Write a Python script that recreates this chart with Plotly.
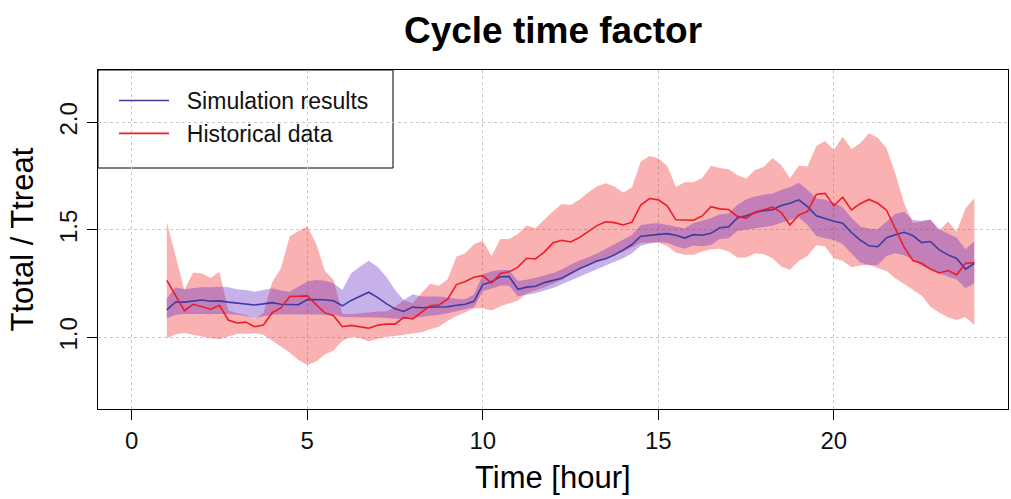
import plotly.graph_objects as go

time_hours = [
    1.0, 1.25, 1.5, 1.75, 2.0, 2.25, 2.5, 2.75, 3.0, 3.25, 3.5, 3.75,
    4.0, 4.25, 4.5, 4.75, 5.0, 5.25, 5.5, 5.75, 6.0, 6.25, 6.5, 6.75,
    7.0, 7.25, 7.5, 7.75, 8.0, 8.25, 8.5, 8.75, 9.0, 9.25, 9.5, 9.75,
    10.0, 10.25, 10.5, 10.75, 11.0, 11.25, 11.5, 11.75, 12.0, 12.25, 12.5, 12.75,
    13.0, 13.25, 13.5, 13.75, 14.0, 14.25, 14.5, 14.75, 15.0, 15.25, 15.5, 15.75,
    16.0, 16.25, 16.5, 16.75, 17.0, 17.25, 17.5, 17.75, 18.0, 18.25, 18.5, 18.75,
    19.0, 19.25, 19.5, 19.75, 20.0, 20.25, 20.5, 20.75, 21.0, 21.25, 21.5, 21.75,
    22.0, 22.25, 22.5, 22.75, 23.0, 23.25, 23.5, 23.75, 24.0,
]

sim_mean = [
    1.128, 1.165, 1.164, 1.170, 1.174, 1.168, 1.170, 1.164, 1.159, 1.155, 1.151, 1.156,
    1.162, 1.154, 1.152, 1.152, 1.176, 1.176, 1.175, 1.170, 1.147, 1.172, 1.191, 1.210,
    1.186, 1.157, 1.133, 1.121, 1.141, 1.138, 1.140, 1.140, 1.143, 1.150, 1.154, 1.168,
    1.246, 1.259, 1.282, 1.283, 1.224, 1.234, 1.238, 1.255, 1.265, 1.275, 1.298, 1.320,
    1.337, 1.356, 1.366, 1.384, 1.407, 1.432, 1.471, 1.475, 1.481, 1.483, 1.475, 1.462,
    1.478, 1.475, 1.484, 1.510, 1.514, 1.556, 1.566, 1.580, 1.590, 1.594, 1.614, 1.624,
    1.640, 1.608, 1.566, 1.553, 1.540, 1.531, 1.488, 1.453, 1.426, 1.422, 1.464, 1.478,
    1.489, 1.474, 1.441, 1.446, 1.407, 1.384, 1.367, 1.317, 1.345,
]
sim_lower = [
    1.089, 1.105, 1.109, 1.109, 1.112, 1.112, 1.112, 1.109, 1.105, 1.100, 1.090, 1.097,
    1.105, 1.108, 1.108, 1.105, 1.108, 1.108, 1.108, 1.106, 1.095, 1.095, 1.095, 1.095,
    1.093, 1.090, 1.087, 1.085, 1.090, 1.095, 1.098, 1.105, 1.112, 1.120, 1.131, 1.140,
    1.215, 1.228, 1.240, 1.240, 1.192, 1.198, 1.206, 1.218, 1.230, 1.247, 1.265, 1.283,
    1.302, 1.318, 1.335, 1.352, 1.368, 1.391, 1.427, 1.437, 1.443, 1.440, 1.424, 1.412,
    1.428, 1.424, 1.430, 1.458, 1.461, 1.495, 1.502, 1.509, 1.514, 1.520, 1.534, 1.545,
    1.559, 1.523, 1.472, 1.461, 1.453, 1.435, 1.391, 1.348, 1.337, 1.337, 1.379, 1.391,
    1.382, 1.364, 1.333, 1.314, 1.298, 1.283, 1.270, 1.229, 1.252,
]
sim_upper = [
    1.182, 1.233, 1.224, 1.229, 1.233, 1.233, 1.236, 1.233, 1.224, 1.221, 1.213, 1.221,
    1.229, 1.218, 1.213, 1.236, 1.260, 1.267, 1.264, 1.252, 1.221, 1.298, 1.329, 1.357,
    1.329, 1.283, 1.221, 1.174, 1.201, 1.190, 1.190, 1.190, 1.185, 1.180, 1.178, 1.200,
    1.293, 1.308, 1.314, 1.314, 1.263, 1.268, 1.277, 1.288, 1.300, 1.316, 1.338, 1.358,
    1.373, 1.390, 1.411, 1.433, 1.453, 1.477, 1.523, 1.529, 1.531, 1.523, 1.516, 1.508,
    1.531, 1.543, 1.554, 1.573, 1.577, 1.616, 1.642, 1.655, 1.664, 1.669, 1.686, 1.698,
    1.720, 1.686, 1.647, 1.640, 1.627, 1.605, 1.557, 1.516, 1.505, 1.503, 1.539, 1.574,
    1.585, 1.546, 1.543, 1.549, 1.503, 1.484, 1.464, 1.410, 1.446,
]

hist_mean = [
    1.265, 1.195, 1.124, 1.154, 1.143, 1.131, 1.149, 1.081, 1.067, 1.071, 1.050, 1.058,
    1.115, 1.137, 1.190, 1.193, 1.193, 1.153, 1.114, 1.101, 1.050, 1.056, 1.050, 1.043,
    1.057, 1.062, 1.062, 1.093, 1.086, 1.115, 1.147, 1.151, 1.178, 1.246, 1.260, 1.280,
    1.287, 1.253, 1.297, 1.305, 1.327, 1.368, 1.365, 1.397, 1.440, 1.452, 1.444, 1.464,
    1.490, 1.520, 1.538, 1.534, 1.523, 1.536, 1.616, 1.646, 1.640, 1.612, 1.547, 1.545,
    1.545, 1.565, 1.608, 1.598, 1.595, 1.563, 1.555, 1.582, 1.595, 1.606, 1.582, 1.523,
    1.570, 1.586, 1.665, 1.670, 1.612, 1.652, 1.593, 1.622, 1.642, 1.624, 1.592, 1.508,
    1.420, 1.358, 1.345, 1.318, 1.300, 1.311, 1.292, 1.345, 1.348,
]
hist_lower = [
    0.996, 1.015, 1.021, 1.013, 1.002, 0.996, 0.992, 1.004, 1.017, 1.017, 1.020, 1.012,
    0.985, 0.960, 0.930, 0.895, 0.872, 0.888, 0.920, 0.940, 0.985, 1.002, 0.996, 0.982,
    0.991, 1.003, 1.007, 1.012, 1.019, 1.024, 1.038, 1.050, 1.077, 1.100, 1.117, 1.135,
    1.136, 1.125, 1.145, 1.160, 1.172, 1.205, 1.218, 1.232, 1.250, 1.268, 1.292, 1.315,
    1.335, 1.350, 1.365, 1.380, 1.398, 1.418, 1.440, 1.442, 1.442, 1.425, 1.395, 1.385,
    1.385, 1.400, 1.410, 1.412, 1.400, 1.372, 1.372, 1.390, 1.388, 1.368, 1.330, 1.315,
    1.356, 1.379, 1.429, 1.423, 1.368, 1.357, 1.326, 1.335, 1.337, 1.323, 1.309, 1.275,
    1.249, 1.224, 1.195, 1.143, 1.116, 1.094, 1.081, 1.094, 1.058,
]
hist_upper = [
    1.537, 1.384, 1.221, 1.302, 1.297, 1.276, 1.305, 1.125, 1.112, 1.105, 1.087, 1.112,
    1.256, 1.322, 1.469, 1.495, 1.516, 1.438, 1.310, 1.267, 1.110, 1.108, 1.112, 1.116,
    1.120, 1.120, 1.143, 1.174, 1.159, 1.205, 1.250, 1.240, 1.271, 1.376, 1.391, 1.433,
    1.450, 1.378, 1.458, 1.458, 1.481, 1.521, 1.508, 1.545, 1.587, 1.621, 1.616, 1.640,
    1.674, 1.702, 1.717, 1.702, 1.674, 1.698, 1.818, 1.844, 1.833, 1.798, 1.700, 1.722,
    1.722, 1.742, 1.798, 1.788, 1.782, 1.756, 1.739, 1.779, 1.793, 1.833, 1.802, 1.740,
    1.799, 1.795, 1.891, 1.914, 1.872, 1.934, 1.876, 1.903, 1.950, 1.929, 1.880, 1.764,
    1.624, 1.534, 1.539, 1.547, 1.497, 1.539, 1.492, 1.601, 1.647,
]

x_ticks = [0, 5, 10, 15, 20]
y_ticks = [1.0, 1.5, 2.0]

BLUE_LINE = "#3c3ca0"
RED_LINE = "#ee1c24"
BLUE_FILL = "rgba(98,40,198,0.36)"
RED_FILL = "rgba(240,40,40,0.36)"
FONT = "Liberation Sans, Arial, sans-serif"

fig = go.Figure()

# bands (polygon: lower forward, upper backward); red first, blue on top
fig.add_trace(go.Scatter(
    x=time_hours + time_hours[::-1], y=hist_lower + hist_upper[::-1],
    fill="toself", fillcolor=RED_FILL, line=dict(width=0), mode="lines",
    hoverinfo="skip", showlegend=False))
fig.add_trace(go.Scatter(
    x=time_hours + time_hours[::-1], y=sim_lower + sim_upper[::-1],
    fill="toself", fillcolor=BLUE_FILL, line=dict(width=0), mode="lines",
    hoverinfo="skip", showlegend=False))

NB = "\u00a0"
fig.add_trace(go.Scatter(
    x=time_hours, y=sim_mean, mode="lines", name=NB * 2 + "Simulation results",
    line=dict(color=BLUE_LINE, width=1.6)))
fig.add_trace(go.Scatter(
    x=time_hours, y=hist_mean, mode="lines", name=NB * 2 + "Historical data",
    line=dict(color=RED_LINE, width=1.6)))

axis_common = dict(
    showline=True, linecolor="black", linewidth=1, mirror=True,
    ticks="outside", ticklen=10, tickcolor="black", tickwidth=1,
    showgrid=True, gridcolor="#c8c8c8", griddash="dot", gridwidth=1,
    zeroline=False, tickfont=dict(family=FONT, size=24, color="#111"),
)

fig.update_xaxes(range=[-0.96, 24.96], tickvals=x_ticks, **axis_common)
fig.update_yaxes(range=[0.667, 2.244], tickvals=y_ticks, tickformat=".1f",
                 tickangle=-90, **axis_common)

PW, PH = 910, 339
fig.update_layout(
    width=1011, height=499,
    margin=dict(l=98, r=3, t=70, b=90),
    paper_bgcolor="white", plot_bgcolor="white",
    title=dict(text="<b>Cycle time factor</b>", x=0.5, xref="paper",
               y=1 - 30 / 499, yref="container", yanchor="middle",
               font=dict(family=FONT, size=37, color="black")),
    legend=dict(x=(114 - 98) / PW, y=1 - 9 / PH, xanchor="left", yanchor="top",
                bgcolor="rgba(0,0,0,0)", borderwidth=0,
                font=dict(family=FONT, size=23, color="#111"),
                itemwidth=50),
    shapes=[
        dict(type="rect", xref="paper", yref="paper", x0=0, x1=(393 - 98) / PW,
             y0=1 - (168 - 70) / PH, y1=1, fillcolor="white",
             line=dict(color="black", width=1), layer="between"),
    ],
    annotations=[
        dict(text="Time [hour]", xref="paper", yref="paper", x=0.5, y=-(477 - 409) / PH,
             showarrow=False, yanchor="middle", xanchor="center",
             font=dict(family=FONT, size=31, color="black")),
        dict(text="Ttotal / Ttreat", xref="paper", yref="paper", x=-(98 - 22) / PW,
             y=0.5, showarrow=False, textangle=-90, xanchor="center", yanchor="middle",
             font=dict(family=FONT, size=31, color="black")),
    ],
)

fig.write_html("out.html")
